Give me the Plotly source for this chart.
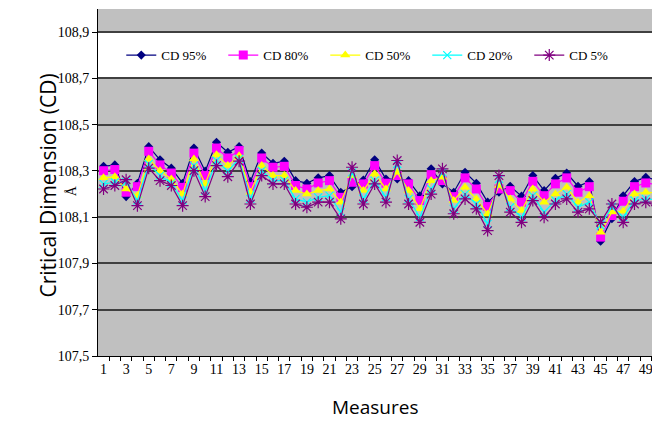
import plotly.graph_objects as go

measures = list(range(1, 51))

cd95 = [108.320, 108.326, 108.189, 108.247, 108.405, 108.348, 108.312, 108.247, 108.399, 108.299,
        108.424, 108.381, 108.405, 108.254, 108.377, 108.333, 108.342, 108.258, 108.247, 108.270,
        108.280, 108.208, 108.232, 108.261, 108.348, 108.265, 108.265, 108.258, 108.193, 108.309,
        108.244, 108.208, 108.294, 108.247, 108.165, 108.208, 108.234, 108.191, 108.280, 108.215,
        108.268, 108.291, 108.234, 108.254, 107.996, 108.093, 108.193, 108.254, 108.273, 108.260]
cd80 = [108.301, 108.306, 108.208, 108.232, 108.385, 108.326, 108.291, 108.229, 108.377, 108.280,
        108.399, 108.356, 108.388, 108.232, 108.356, 108.316, 108.320, 108.237, 108.222, 108.248,
        108.258, 108.186, 108.251, 108.244, 108.323, 108.247, 108.280, 108.244, 108.172, 108.284,
        108.258, 108.189, 108.270, 108.222, 108.146, 108.222, 108.215, 108.165, 108.255, 108.193,
        108.244, 108.270, 108.208, 108.232, 108.014, 108.107, 108.169, 108.232, 108.248, 108.240]
cd50 = [108.270, 108.275, 108.222, 108.193, 108.352, 108.301, 108.265, 108.200, 108.352, 108.244,
        108.370, 108.323, 108.366, 108.208, 108.323, 108.280, 108.280, 108.215, 108.200, 108.215,
        108.222, 108.165, 108.280, 108.215, 108.287, 108.222, 108.294, 108.215, 108.136, 108.258,
        108.273, 108.172, 108.229, 108.179, 108.114, 108.237, 108.179, 108.129, 108.222, 108.165,
        108.200, 108.229, 108.165, 108.193, 108.035, 108.122, 108.126, 108.200, 108.208, 108.205]
cd20 = [108.244, 108.251, 108.252, 108.172, 108.330, 108.280, 108.247, 108.172, 108.323, 108.215,
        108.345, 108.299, 108.352, 108.179, 108.301, 108.258, 108.258, 108.179, 108.165, 108.186,
        108.193, 108.122, 108.294, 108.179, 108.258, 108.186, 108.330, 108.179, 108.100, 108.222,
        108.294, 108.136, 108.200, 108.157, 108.071, 108.265, 108.143, 108.100, 108.193, 108.122,
        108.172, 108.200, 108.143, 108.165, 108.064, 108.144, 108.100, 108.172, 108.179, 108.175]
cd5 = [108.222, 108.237, 108.262, 108.150, 108.312, 108.258, 108.237, 108.150, 108.301, 108.189,
       108.323, 108.275, 108.342, 108.157, 108.280, 108.244, 108.244, 108.157, 108.143, 108.165,
       108.165, 108.093, 108.316, 108.157, 108.244, 108.165, 108.345, 108.157, 108.078, 108.200,
       108.309, 108.115, 108.179, 108.136, 108.042, 108.280, 108.122, 108.078, 108.172, 108.100,
       108.157, 108.179, 108.122, 108.136, 108.078, 108.157, 108.078, 108.157, 108.165, 108.150]

x_ticks = list(range(1, 50, 2))
y_ticks = [107.5, 107.7, 107.9, 108.1, 108.3, 108.5, 108.7, 108.9]

series = [
    ("CD 95%", cd95, "#000080", "diamond", 7, "#000080", 0),
    ("CD 80%", cd80, "#FF00FF", "square", 9, "#FF00FF", 0),
    ("CD 50%", cd50, "#FFFF00", "triangle-up", 9, "#FFFF00", 0),
    ("CD 20%", cd20, "#00FFFF", "x-thin-open", 8, "#00FFFF", 1.2),
    ("CD 5%", cd5, "#800080", "asterisk-open", 10, "#800080", 1.2),
]

fig = go.Figure()
for name, vals, col, sym, size, mcol, lw in series:
    marker = dict(symbol=sym, size=size, color=mcol)
    if lw:
        marker["line"] = dict(color=mcol, width=lw)
    else:
        marker["line"] = dict(width=0)
    fig.add_trace(go.Scatter(x=measures, y=vals, mode="lines+markers", name=name,
                             line=dict(color=col, width=1.2), marker=marker))

serif = "Liberation Serif, Times New Roman, serif"

fig.add_shape(type="rect", xref="paper", yref="y", x0=0, x1=1, y0=108.7, y1=108.9,
              fillcolor="white", line=dict(width=0), layer="below")

fig.update_layout(
    width=652, height=423,
    margin=dict(l=98, r=0, t=9, b=67),
    paper_bgcolor="white", plot_bgcolor="#C0C0C0",
    separators=", ",
    showlegend=True,
    legend=dict(orientation="h", x=0.042, xanchor="left", y=0.867, yanchor="middle",
                bgcolor="rgba(0,0,0,0)", font=dict(family=serif, size=13, color="black"),
                entrywidth=57, entrywidthmode="pixels", itemwidth=30),
    xaxis=dict(range=[0.51, 49.55], tickmode="array", tickvals=x_ticks,
               ticktext=[str(v) for v in x_ticks], ticks="", showgrid=False, zeroline=False,
               showline=True, linecolor="black", linewidth=1, ticklabeloverflow="allow",
               tickfont=dict(family=serif, size=14, color="black"),
               minor=dict(tickmode="linear", tick0=0.5, dtick=1, ticks="outside", ticklen=4,
                          tickcolor="black", showgrid=False)),
    yaxis=dict(range=[107.5, 109.0], tickmode="array", tickvals=y_ticks, tickformat=".1f",
               ticks="outside", ticklen=5, tickcolor="black", showgrid=True,
               gridcolor="#404040", gridwidth=1.5, zeroline=False, showline=True,
               linecolor="black", linewidth=1,
               tickfont=dict(family=serif, size=14, color="black")),
)

fig.add_annotation(text="Critical Dimension (CD)", xref="paper", yref="paper",
                   x=-0.12, y=0.49, textangle=-90, showarrow=False,
                   font=dict(family="Open Sans, sans-serif", size=21, color="black"))
fig.add_annotation(text="Measures", xref="paper", yref="paper", x=0.5, y=-0.148,
                   showarrow=False, yanchor="middle",
                   font=dict(family="Open Sans, sans-serif", size=19, color="black"))
fig.add_annotation(text="Å", xref="paper", yref="paper", x=0, y=0.475,
                   xanchor="center", yanchor="middle", xshift=-27,
                   textangle=-90, showarrow=False,
                   font=dict(family=serif, size=14, color="black"))

fig.write_html("out.html", post_script="document.body.style.margin='0';",
               config={"displayModeBar": False})
